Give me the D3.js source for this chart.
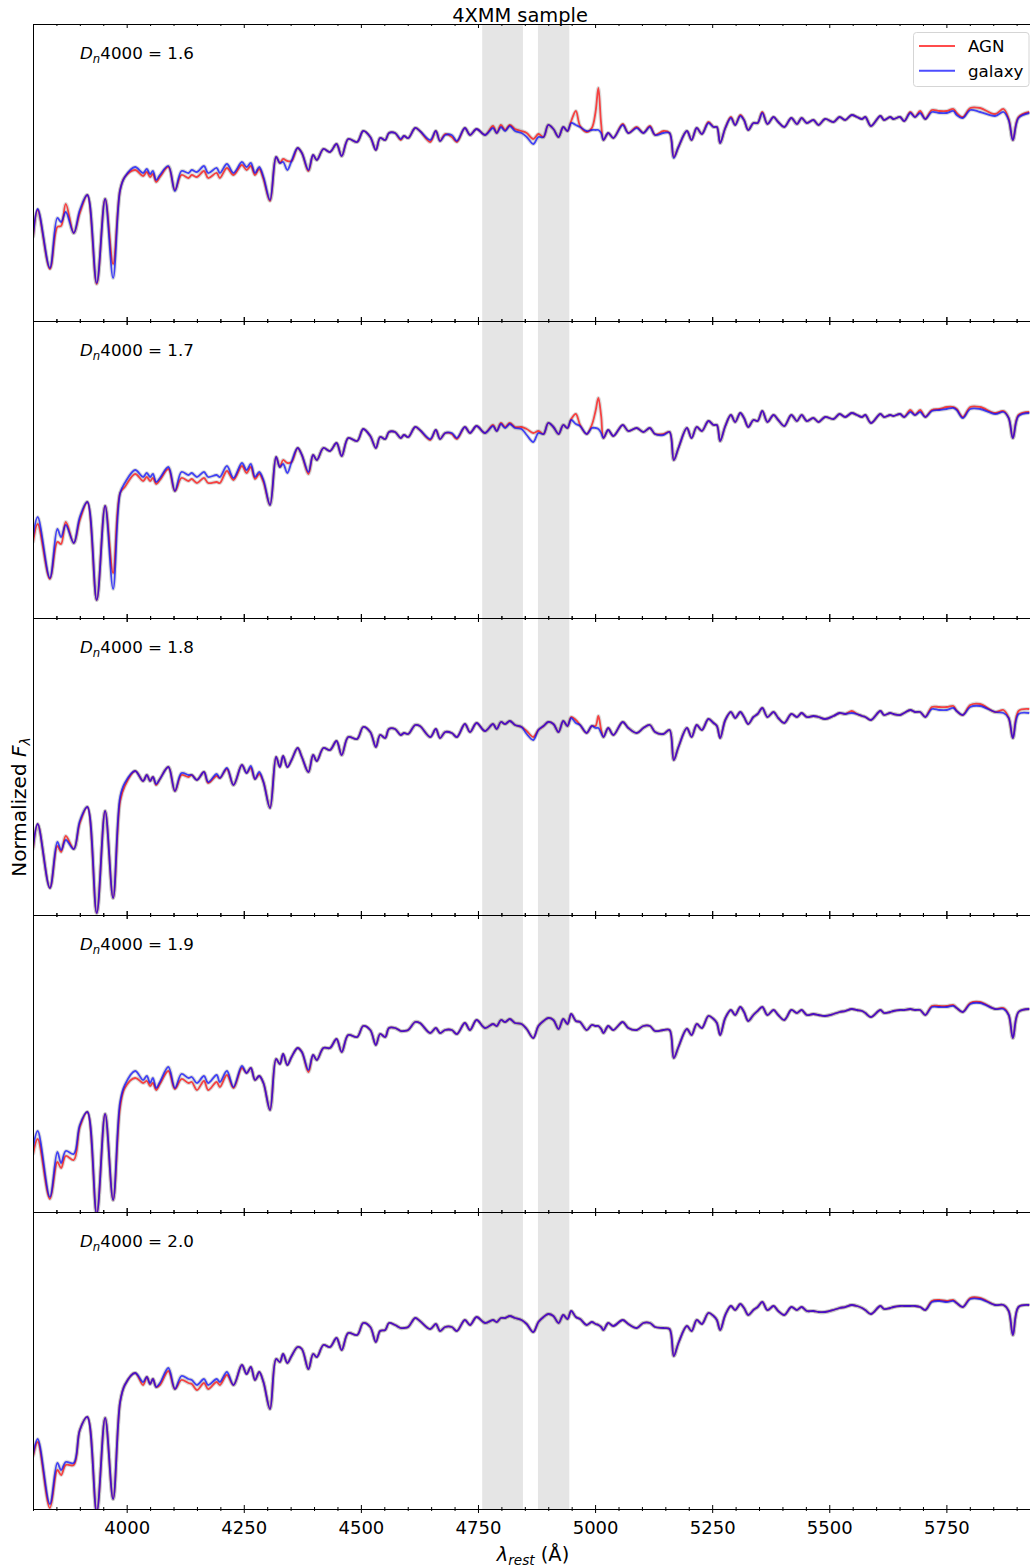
<!DOCTYPE html>
<html>
<head>
<meta charset="utf-8">
<title>4XMM sample</title>
<script src="https://cdn.jsdelivr.net/npm/d3@7"></script>
<style>
  body { margin: 0; background: #fff; }
  text { font-family: "DejaVu Sans", sans-serif; fill: #000; }
</style>
</head>
<body>
<div id="chart"></div>
<script>
// rest-frame wavelength grid (Angstrom), shared by every panel
var lambdaRest = [3800,3810,3836,3852,3860,3870,3887,3900,3916,3936,
  3954,3971,3986,3996,4018,4035,4043,4050,4056,4063,
  4071,4089,4103,4117,4132,4139,4150,4165,4174,4192,
  4199,4214,4228,4246,4256,4265,4274,4283,4292,4306,
  4319,4327,4334,4343,4352,4365,4374,4388,4398,4406,
  4420,4434,4448,4459,4473,4492,4505,4520,4532,4541,
  4552,4560,4573,4585,4592,4601,4616,4626,4648,4660,
  4669,4680,4694,4705,4722,4733,4747,4765,4782,4790,
  4799,4808,4818,4829,4843,4854,4868,4879,4890,4900,
  4911,4922,4932,4941,4949,4959,4968,4982,4993,5001,
  5007,5013,5018,5028,5039,5059,5071,5089,5103,5117,
  5128,5146,5159,5168,5178,5196,5206,5217,5228,5242,
  5253,5260,5267,5278,5290,5299,5310,5318,5327,5338,
  5347,5357,5368,5381,5391,5404,5419,5431,5441,5452,
  5466,5477,5491,5509,5522,5534,5548,5559,5570,5577,
  5589,5609,5617,5630,5637,5651,5660,5673,5683,5694,
  5705,5719,5735,5751,5765,5772,5785,5801,5822,5854,
  5872,5883,5892,5904,5927];

// Dn4000 = 1.6
var agn16 = [0.83,1.11,0.52,0.94,0.95,1.17,0.88,1.08,1.26,0.37,
  1.22,0.57,1.31,1.44,1.51,1.45,1.49,1.44,1.47,1.39,
  1.44,1.54,1.31,1.46,1.43,1.46,1.44,1.50,1.43,1.48,
  1.43,1.53,1.46,1.56,1.51,1.55,1.46,1.52,1.42,1.20,
  1.64,1.58,1.62,1.60,1.60,1.73,1.68,1.50,1.66,1.61,
  1.72,1.69,1.77,1.65,1.82,1.79,1.90,1.84,1.71,1.83,
  1.81,1.88,1.88,1.81,1.85,1.83,1.93,1.90,1.79,1.90,
  1.80,1.87,1.84,1.79,1.93,1.86,1.92,1.86,1.95,1.88,
  1.96,1.91,1.96,1.92,1.90,1.88,1.82,1.87,1.84,1.96,
  1.92,1.84,1.94,1.90,2.00,2.10,1.95,1.89,1.93,2.09,
  2.33,1.97,1.81,1.88,1.83,1.97,1.88,1.94,1.88,1.95,
  1.86,1.90,1.88,1.64,1.74,1.90,1.81,1.93,1.87,1.99,
  1.94,1.94,1.78,1.93,2.04,1.96,2.06,2.01,1.91,1.98,
  1.98,2.09,1.97,2.04,1.99,1.94,2.03,1.97,2.03,1.98,
  2.01,1.96,2.02,1.99,2.04,2.01,2.06,2.04,2.02,2.04,
  1.95,2.05,2.01,2.04,2.02,2.04,2.00,2.09,2.04,2.10,
  2.02,2.11,2.10,2.10,2.12,2.08,2.04,2.13,2.13,2.07,
  2.12,2.02,1.81,2.04,2.09];
var gal16 = [0.84,1.12,0.53,1.03,0.99,1.09,0.88,1.11,1.26,0.38,
  1.22,0.43,1.31,1.44,1.54,1.48,1.52,1.47,1.50,1.41,
  1.46,1.55,1.30,1.50,1.48,1.51,1.49,1.55,1.48,1.53,
  1.48,1.57,1.48,1.59,1.54,1.58,1.48,1.54,1.44,1.21,
  1.64,1.58,1.59,1.51,1.60,1.73,1.68,1.51,1.66,1.61,
  1.72,1.69,1.77,1.65,1.82,1.79,1.90,1.84,1.71,1.83,
  1.81,1.88,1.88,1.82,1.85,1.83,1.93,1.90,1.81,1.90,
  1.80,1.86,1.86,1.80,1.93,1.86,1.92,1.86,1.93,1.88,
  1.94,1.90,1.95,1.90,1.88,1.84,1.77,1.84,1.84,1.96,
  1.92,1.84,1.94,1.90,1.98,1.96,1.94,1.90,1.91,1.91,
  1.91,1.88,1.81,1.88,1.83,1.96,1.88,1.93,1.88,1.94,
  1.86,1.88,1.88,1.63,1.74,1.90,1.81,1.93,1.87,1.98,
  1.94,1.94,1.78,1.93,2.03,1.96,2.05,2.01,1.91,1.98,
  1.98,2.08,1.97,2.04,1.99,1.94,2.03,1.97,2.03,1.98,
  2.01,1.96,2.02,1.99,2.04,2.01,2.06,2.04,2.02,2.04,
  1.95,2.05,2.01,2.04,2.02,2.04,2.00,2.08,2.04,2.08,
  2.02,2.09,2.08,2.08,2.10,2.06,2.03,2.11,2.09,2.05,
  2.09,2.01,1.81,2.03,2.08];

// Dn4000 = 1.7
var agn17 = [0.75,0.94,0.39,0.76,0.74,0.96,0.75,0.98,1.16,0.18,
  1.12,0.45,1.25,1.31,1.44,1.37,1.41,1.37,1.40,1.34,
  1.38,1.49,1.27,1.40,1.37,1.39,1.35,1.40,1.35,1.36,
  1.35,1.47,1.38,1.52,1.45,1.51,1.39,1.44,1.36,1.13,
  1.61,1.51,1.58,1.55,1.56,1.70,1.63,1.44,1.63,1.58,
  1.70,1.67,1.75,1.62,1.80,1.77,1.89,1.82,1.70,1.81,
  1.79,1.86,1.86,1.80,1.83,1.81,1.91,1.88,1.78,1.88,
  1.79,1.85,1.84,1.79,1.91,1.85,1.92,1.85,1.93,1.87,
  1.95,1.91,1.95,1.91,1.91,1.89,1.85,1.87,1.84,1.95,
  1.91,1.84,1.93,1.90,1.99,2.04,1.93,1.84,1.93,2.07,
  2.20,2.02,1.80,1.88,1.82,1.93,1.87,1.90,1.86,1.90,
  1.84,1.84,1.86,1.58,1.70,1.90,1.80,1.91,1.87,1.97,
  1.93,1.93,1.77,1.92,2.03,1.96,2.05,2.00,1.91,1.98,
  1.97,2.07,1.96,2.03,1.98,1.92,2.03,1.97,2.03,1.97,
  2.00,1.96,2.01,1.99,2.04,2.01,2.05,2.03,2.01,2.03,
  1.95,2.04,2.01,2.03,2.02,2.04,2.01,2.08,2.03,2.08,
  2.01,2.08,2.09,2.11,2.11,2.09,2.01,2.11,2.11,2.05,
  2.07,2.00,1.80,2.03,2.06];
var gal17 = [0.81,1.01,0.40,0.89,0.81,0.93,0.75,1.01,1.16,0.18,
  1.12,0.29,1.25,1.35,1.48,1.41,1.45,1.41,1.44,1.36,
  1.40,1.51,1.27,1.46,1.43,1.45,1.41,1.46,1.41,1.43,
  1.41,1.52,1.40,1.55,1.48,1.54,1.41,1.46,1.38,1.13,
  1.61,1.51,1.54,1.45,1.56,1.70,1.63,1.46,1.63,1.58,
  1.70,1.67,1.75,1.62,1.80,1.77,1.89,1.82,1.70,1.81,
  1.79,1.86,1.86,1.80,1.83,1.81,1.91,1.88,1.79,1.88,
  1.79,1.85,1.85,1.80,1.91,1.85,1.92,1.85,1.92,1.87,
  1.94,1.90,1.94,1.90,1.89,1.83,1.76,1.85,1.84,1.95,
  1.91,1.84,1.93,1.90,1.98,1.94,1.92,1.84,1.90,1.90,
  1.89,1.85,1.80,1.88,1.82,1.93,1.87,1.90,1.86,1.90,
  1.84,1.83,1.86,1.58,1.70,1.90,1.80,1.91,1.87,1.97,
  1.93,1.93,1.77,1.92,2.03,1.96,2.05,2.00,1.91,1.98,
  1.97,2.07,1.96,2.03,1.98,1.92,2.03,1.97,2.03,1.97,
  2.00,1.96,2.01,1.99,2.04,2.01,2.05,2.03,2.01,2.03,
  1.95,2.04,2.01,2.03,2.02,2.04,2.01,2.06,2.03,2.06,
  2.01,2.07,2.08,2.09,2.10,2.08,2.00,2.09,2.09,2.04,
  2.06,2.00,1.80,2.02,2.05];

// Dn4000 = 1.8
var agn18 = [0.65,0.91,0.27,0.69,0.63,0.79,0.66,0.92,1.08,0.02,
  1.04,0.17,1.14,1.29,1.44,1.34,1.40,1.34,1.38,1.30,
  1.36,1.48,1.24,1.40,1.38,1.40,1.35,1.43,1.32,1.39,
  1.37,1.46,1.30,1.50,1.42,1.47,1.36,1.41,1.33,1.07,
  1.58,1.48,1.59,1.48,1.55,1.67,1.58,1.43,1.60,1.54,
  1.67,1.65,1.74,1.60,1.78,1.76,1.88,1.83,1.68,1.80,
  1.77,1.86,1.86,1.80,1.82,1.81,1.90,1.89,1.78,1.86,
  1.77,1.83,1.82,1.78,1.91,1.83,1.92,1.84,1.91,1.86,
  1.93,1.91,1.94,1.90,1.88,1.84,1.78,1.85,1.89,1.93,
  1.91,1.83,1.94,1.89,1.98,1.95,1.90,1.82,1.89,1.89,
  1.99,1.85,1.78,1.87,1.80,1.93,1.87,1.82,1.87,1.90,
  1.83,1.81,1.85,1.55,1.68,1.87,1.78,1.90,1.85,1.96,
  1.92,1.89,1.77,1.95,2.03,1.97,2.03,1.98,1.91,1.98,
  2.01,2.07,1.98,2.03,1.97,1.92,2.01,1.98,2.02,1.98,
  1.99,1.98,1.96,1.99,2.02,2.01,2.04,2.01,1.99,1.98,
  1.95,2.04,2.00,2.02,2.01,2.00,2.02,2.05,2.03,2.03,
  1.98,2.08,2.08,2.08,2.09,2.04,2.00,2.10,2.11,2.03,
  2.05,1.97,1.77,2.04,2.06];
var gal18 = [0.67,0.91,0.27,0.73,0.65,0.75,0.66,0.94,1.08,0.02,
  1.04,0.17,1.18,1.32,1.44,1.34,1.40,1.34,1.38,1.31,
  1.36,1.48,1.24,1.42,1.40,1.40,1.35,1.43,1.33,1.41,
  1.37,1.47,1.30,1.50,1.42,1.49,1.36,1.43,1.33,1.07,
  1.58,1.48,1.59,1.48,1.55,1.67,1.58,1.43,1.60,1.54,
  1.67,1.65,1.74,1.60,1.78,1.76,1.88,1.83,1.68,1.80,
  1.77,1.86,1.86,1.80,1.82,1.81,1.90,1.89,1.78,1.86,
  1.77,1.83,1.82,1.78,1.91,1.83,1.92,1.84,1.91,1.86,
  1.93,1.91,1.94,1.90,1.88,1.81,1.75,1.85,1.89,1.93,
  1.91,1.83,1.94,1.89,1.97,1.92,1.90,1.82,1.89,1.87,
  1.87,1.82,1.78,1.87,1.80,1.93,1.87,1.82,1.87,1.90,
  1.83,1.81,1.85,1.55,1.68,1.87,1.78,1.90,1.85,1.96,
  1.92,1.89,1.77,1.95,2.03,1.97,2.03,1.98,1.91,1.98,
  2.01,2.07,1.98,2.03,1.97,1.92,2.01,1.98,2.02,1.98,
  1.99,1.98,1.96,1.99,2.02,2.01,2.02,2.01,1.99,1.98,
  1.95,2.04,2.00,2.02,2.01,2.00,2.02,2.05,2.03,2.03,
  1.98,2.06,2.05,2.05,2.07,2.04,2.00,2.08,2.09,2.03,
  2.02,1.97,1.77,2.01,2.02];

// Dn4000 = 1.9
var agn19 = [0.57,0.73,0.13,0.50,0.44,0.56,0.52,0.85,1.00,-0.02,
  0.98,0.12,1.05,1.24,1.34,1.29,1.31,1.26,1.29,1.22,
  1.28,1.41,1.23,1.33,1.29,1.30,1.22,1.31,1.22,1.30,
  1.25,1.37,1.24,1.44,1.39,1.44,1.32,1.36,1.29,1.02,
  1.53,1.48,1.58,1.47,1.55,1.64,1.60,1.40,1.57,1.52,
  1.64,1.64,1.73,1.60,1.77,1.75,1.86,1.82,1.67,1.78,
  1.75,1.84,1.84,1.81,1.81,1.82,1.90,1.89,1.79,1.84,
  1.79,1.82,1.82,1.78,1.89,1.82,1.92,1.84,1.88,1.86,
  1.92,1.90,1.93,1.89,1.88,1.83,1.74,1.86,1.91,1.94,
  1.92,1.83,1.93,1.88,1.98,1.91,1.90,1.82,1.87,1.86,
  1.86,1.83,1.79,1.86,1.82,1.90,1.84,1.82,1.86,1.86,
  1.81,1.82,1.82,1.54,1.65,1.83,1.77,1.88,1.84,1.96,
  1.93,1.89,1.77,1.94,2.02,1.97,2.05,2.00,1.91,1.97,
  2.01,2.05,1.97,2.02,1.97,1.92,2.02,1.99,2.02,1.97,
  1.98,1.97,1.96,1.98,2.00,2.01,2.03,2.02,2.01,1.99,
  1.95,2.02,1.99,2.00,2.01,2.02,2.02,2.03,2.02,2.02,
  1.97,2.06,2.06,2.06,2.07,2.04,2.00,2.09,2.10,2.03,
  2.04,1.97,1.74,2.00,2.03];
var gal19 = [0.64,0.81,0.15,0.60,0.49,0.61,0.58,0.87,1.00,-0.02,
  0.98,0.12,1.10,1.27,1.41,1.32,1.36,1.29,1.34,1.24,
  1.30,1.45,1.24,1.38,1.34,1.35,1.29,1.36,1.29,1.37,
  1.30,1.41,1.25,1.46,1.39,1.44,1.32,1.36,1.29,1.02,
  1.53,1.48,1.58,1.47,1.55,1.64,1.60,1.42,1.57,1.52,
  1.64,1.64,1.73,1.60,1.77,1.75,1.86,1.82,1.67,1.78,
  1.75,1.84,1.84,1.81,1.81,1.82,1.90,1.89,1.79,1.84,
  1.79,1.82,1.82,1.78,1.89,1.82,1.92,1.84,1.88,1.86,
  1.92,1.90,1.93,1.89,1.88,1.83,1.74,1.86,1.91,1.94,
  1.92,1.83,1.93,1.88,1.98,1.91,1.90,1.82,1.87,1.86,
  1.86,1.83,1.79,1.86,1.82,1.90,1.84,1.82,1.86,1.86,
  1.81,1.82,1.82,1.54,1.65,1.83,1.77,1.88,1.84,1.96,
  1.93,1.89,1.77,1.94,2.02,1.97,2.05,2.00,1.91,1.97,
  2.01,2.05,1.97,2.02,1.97,1.92,2.02,1.99,2.02,1.97,
  1.98,1.97,1.96,1.98,2.00,2.01,2.03,2.02,2.01,1.99,
  1.95,2.02,1.99,2.00,2.01,2.02,2.02,2.03,2.02,2.02,
  1.97,2.05,2.05,2.05,2.06,2.04,2.00,2.08,2.09,2.03,
  2.03,1.97,1.74,2.00,2.03];

// Dn4000 = 2.0
var agn20 = [0.52,0.67,0.01,0.39,0.34,0.44,0.44,0.79,0.92,-0.03,
  0.91,0.10,1.07,1.24,1.36,1.24,1.32,1.25,1.30,1.22,
  1.24,1.38,1.20,1.29,1.26,1.25,1.19,1.26,1.20,1.27,
  1.24,1.34,1.24,1.44,1.35,1.42,1.29,1.37,1.27,1.00,
  1.50,1.47,1.55,1.46,1.53,1.62,1.60,1.40,1.55,1.52,
  1.64,1.62,1.71,1.59,1.76,1.74,1.86,1.82,1.67,1.78,
  1.79,1.86,1.84,1.81,1.81,1.82,1.91,1.88,1.80,1.85,
  1.78,1.82,1.82,1.78,1.89,1.84,1.92,1.86,1.89,1.87,
  1.91,1.91,1.93,1.91,1.89,1.85,1.77,1.87,1.92,1.95,
  1.93,1.86,1.94,1.90,1.98,1.92,1.90,1.84,1.87,1.85,
  1.84,1.82,1.79,1.86,1.83,1.89,1.85,1.81,1.86,1.86,
  1.82,1.81,1.80,1.53,1.66,1.83,1.78,1.89,1.85,1.96,
  1.93,1.89,1.79,1.94,2.03,1.99,2.05,2.01,1.94,1.99,
  2.02,2.07,1.99,2.03,1.98,1.94,2.02,1.99,2.02,1.98,
  1.98,1.97,1.97,1.99,2.01,2.02,2.04,2.03,2.01,1.99,
  1.95,2.03,2.00,2.01,2.02,2.03,2.03,2.03,2.03,2.02,
  1.99,2.08,2.09,2.08,2.09,2.06,2.02,2.11,2.11,2.04,
  2.04,1.98,1.74,2.02,2.04];
var gal20 = [0.54,0.70,0.05,0.46,0.39,0.47,0.46,0.79,0.92,-0.03,
  0.91,0.10,1.07,1.24,1.36,1.27,1.32,1.25,1.30,1.22,
  1.26,1.41,1.20,1.33,1.30,1.29,1.24,1.30,1.24,1.30,
  1.27,1.37,1.24,1.44,1.35,1.42,1.29,1.37,1.27,1.00,
  1.50,1.47,1.55,1.46,1.53,1.62,1.60,1.40,1.55,1.52,
  1.64,1.62,1.71,1.59,1.76,1.74,1.86,1.82,1.67,1.78,
  1.79,1.86,1.84,1.81,1.81,1.82,1.91,1.88,1.80,1.85,
  1.78,1.82,1.82,1.78,1.89,1.84,1.92,1.86,1.89,1.87,
  1.91,1.91,1.93,1.91,1.89,1.85,1.77,1.87,1.92,1.95,
  1.93,1.86,1.94,1.90,1.98,1.92,1.90,1.84,1.87,1.85,
  1.84,1.82,1.79,1.86,1.83,1.89,1.85,1.81,1.86,1.86,
  1.82,1.81,1.80,1.53,1.66,1.83,1.78,1.89,1.85,1.96,
  1.93,1.89,1.79,1.94,2.03,1.99,2.05,2.01,1.94,1.99,
  2.02,2.07,1.99,2.03,1.98,1.94,2.02,1.99,2.02,1.98,
  1.98,1.97,1.97,1.99,2.01,2.02,2.04,2.03,2.01,1.99,
  1.95,2.03,2.00,2.01,2.02,2.03,2.03,2.03,2.03,2.02,
  1.99,2.07,2.08,2.07,2.08,2.06,2.02,2.10,2.10,2.04,
  2.04,1.98,1.74,2.02,2.04];

var dnValues = ["1.6", "1.7", "1.8", "1.9", "2.0"];
var maskBands = [[4759, 4846], [4878, 4945]];
var majorTicks = [4000, 4250, 4500, 4750, 5000, 5250, 5500, 5750];
var seriesNames = ["AGN", "galaxy"];
var seriesColors = ["#ff0000", "#0000ff"];

var panels = [
  {dn: dnValues[0], agn: agn16, gal: gal16},
  {dn: dnValues[1], agn: agn17, gal: gal17},
  {dn: dnValues[2], agn: agn18, gal: gal18},
  {dn: dnValues[3], agn: agn19, gal: gal19},
  {dn: dnValues[4], agn: agn20, gal: gal20}
];

var width = 1030, height = 1568;
var figTop = 24, panelH = 297, left = 33;
var svg = d3.select("#chart").append("svg")
  .attr("width", width)
  .attr("height", height);

var x = d3.scaleLinear().domain([3800, 5930]).range([left, left + 2130 * 0.4684]);
var minorTicks = d3.range(3800, 5931, 50).filter(function(v) { return majorTicks.indexOf(v) < 0; });

// ticks cross the spine ("inout")
function crossTicks(sel, len) {
  sel.selectAll(".tick line").attr("y1", -len).attr("y2", len);
}

panels.forEach(function(p, i) {
  var top = figTop + i * panelH, bottom = top + panelH;
  var y = d3.scaleLinear().domain([0, 2.97]).range([bottom, top]);
  var g = svg.append("g");

  g.append("clipPath").attr("id", "clip" + i).append("rect")
    .attr("x", x.range()[0]).attr("y", top)
    .attr("width", x.range()[1] - x.range()[0]).attr("height", panelH);
  var plot = g.append("g").attr("clip-path", "url(#clip" + i + ")");

  // masked wavelength windows
  plot.selectAll("rect.band").data(maskBands).enter().append("rect")
    .attr("class", "band")
    .attr("x", function(d) { return x(d[0]); })
    .attr("width", function(d) { return x(d[1]) - x(d[0]); })
    .attr("y", top).attr("height", panelH)
    .attr("fill", "#e5e5e5");

  var line = d3.line()
    .x(function(d, j) { return x(lambdaRest[j]); })
    .y(function(d) { return y(d); })
    .curve(d3.curveCatmullRom.alpha(0.5));

  // grey spread under the two stacks
  [p.agn, p.gal].forEach(function(s) {
    plot.append("path").attr("d", line(s))
      .attr("fill", "none").attr("stroke", "#8a8a8a")
      .attr("stroke-width", 4).attr("stroke-opacity", 0.3);
  });
  [p.agn, p.gal].forEach(function(s, k) {
    plot.append("path").attr("d", line(s))
      .attr("fill", "none").attr("stroke", seriesColors[k])
      .attr("stroke-width", 1.8).attr("stroke-opacity", 0.7)
      .attr("stroke-linejoin", "round");
  });

  var last = (i === panels.length - 1);
  var axB = d3.axisBottom(x).tickValues(majorTicks).tickSize(-4).tickSizeOuter(0).tickPadding(12)
    .tickFormat(last ? d3.format("d") : "");
  var gb = g.append("g").attr("transform", "translate(0," + bottom + ")").call(axB);
  gb.attr("font-size", 18).attr("font-family", "DejaVu Sans");
  crossTicks(gb, 4);
  var gbm = g.append("g").attr("transform", "translate(0," + bottom + ")")
    .call(d3.axisBottom(x).tickValues(minorTicks).tickSize(-2).tickSizeOuter(0).tickFormat(""));
  crossTicks(gbm, 2);
  var gt = g.append("g").attr("transform", "translate(0," + top + ")")
    .call(d3.axisTop(x).tickValues(majorTicks).tickSize(-4).tickSizeOuter(0).tickFormat(""));
  var gtm = g.append("g").attr("transform", "translate(0," + top + ")")
    .call(d3.axisTop(x).tickValues(minorTicks).tickSize(-2).tickSizeOuter(0).tickFormat(""));
  if (i > 0) { crossTicks(gt, 4); crossTicks(gtm, 2); }
  g.selectAll(".domain, .tick line").attr("stroke", "#000").attr("stroke-width", 1);

  g.append("line")
    .attr("x1", left + 0.5).attr("x2", left + 0.5)
    .attr("y1", top).attr("y2", bottom)
    .attr("stroke", "#000").attr("stroke-width", 1);

  // panel label
  var lab = g.append("text").attr("x", 80).attr("y", top + 34.5).attr("font-size", 16.7);
  lab.append("tspan").attr("font-style", "italic").text("D");
  lab.append("tspan").attr("font-style", "italic").attr("font-size", 11.7).attr("dy", 4).text("n");
  lab.append("tspan").attr("dy", -4).text("4000 = " + p.dn);

  if (i === 0) {
    var leg = g.append("g");
    leg.append("rect")
      .attr("x", 913.5).attr("y", 32.5).attr("width", 115.5).attr("height", 54)
      .attr("rx", 3).attr("fill", "#fff").attr("fill-opacity", 0.8)
      .attr("stroke", "#d5d5d5").attr("stroke-width", 1);
    seriesNames.forEach(function(name, k) {
      var ly = 46 + k * 24.7;
      leg.append("line")
        .attr("x1", 919).attr("x2", 955).attr("y1", ly).attr("y2", ly)
        .attr("stroke", seriesColors[k]).attr("stroke-opacity", 0.7).attr("stroke-width", 2);
      leg.append("text").attr("x", 968).attr("y", ly + 6)
        .attr("font-size", 16.7).text(name);
    });
  }
});

// title and axis labels
svg.append("text").attr("x", 520).attr("y", 21.5)
  .attr("text-anchor", "middle").attr("font-size", 19.4).text("4XMM sample");

var xl = svg.append("text").attr("x", 533).attr("y", 1561)
  .attr("text-anchor", "middle").attr("font-size", 19.4);
xl.append("tspan").attr("font-style", "italic").text("λ");
xl.append("tspan").attr("font-style", "italic").attr("font-size", 13.6).attr("dy", 4).text("rest");
xl.append("tspan").attr("dy", -4).text(" (Å)");

var yl = svg.append("text").attr("transform", "translate(26,807) rotate(-90)")
  .attr("text-anchor", "middle").attr("font-size", 20);
yl.append("tspan").text("Normalized ");
yl.append("tspan").attr("font-style", "italic").text("F");
yl.append("tspan").attr("font-style", "italic").attr("font-size", 14).attr("dy", 4).text("λ");
</script>
</body>
</html>
